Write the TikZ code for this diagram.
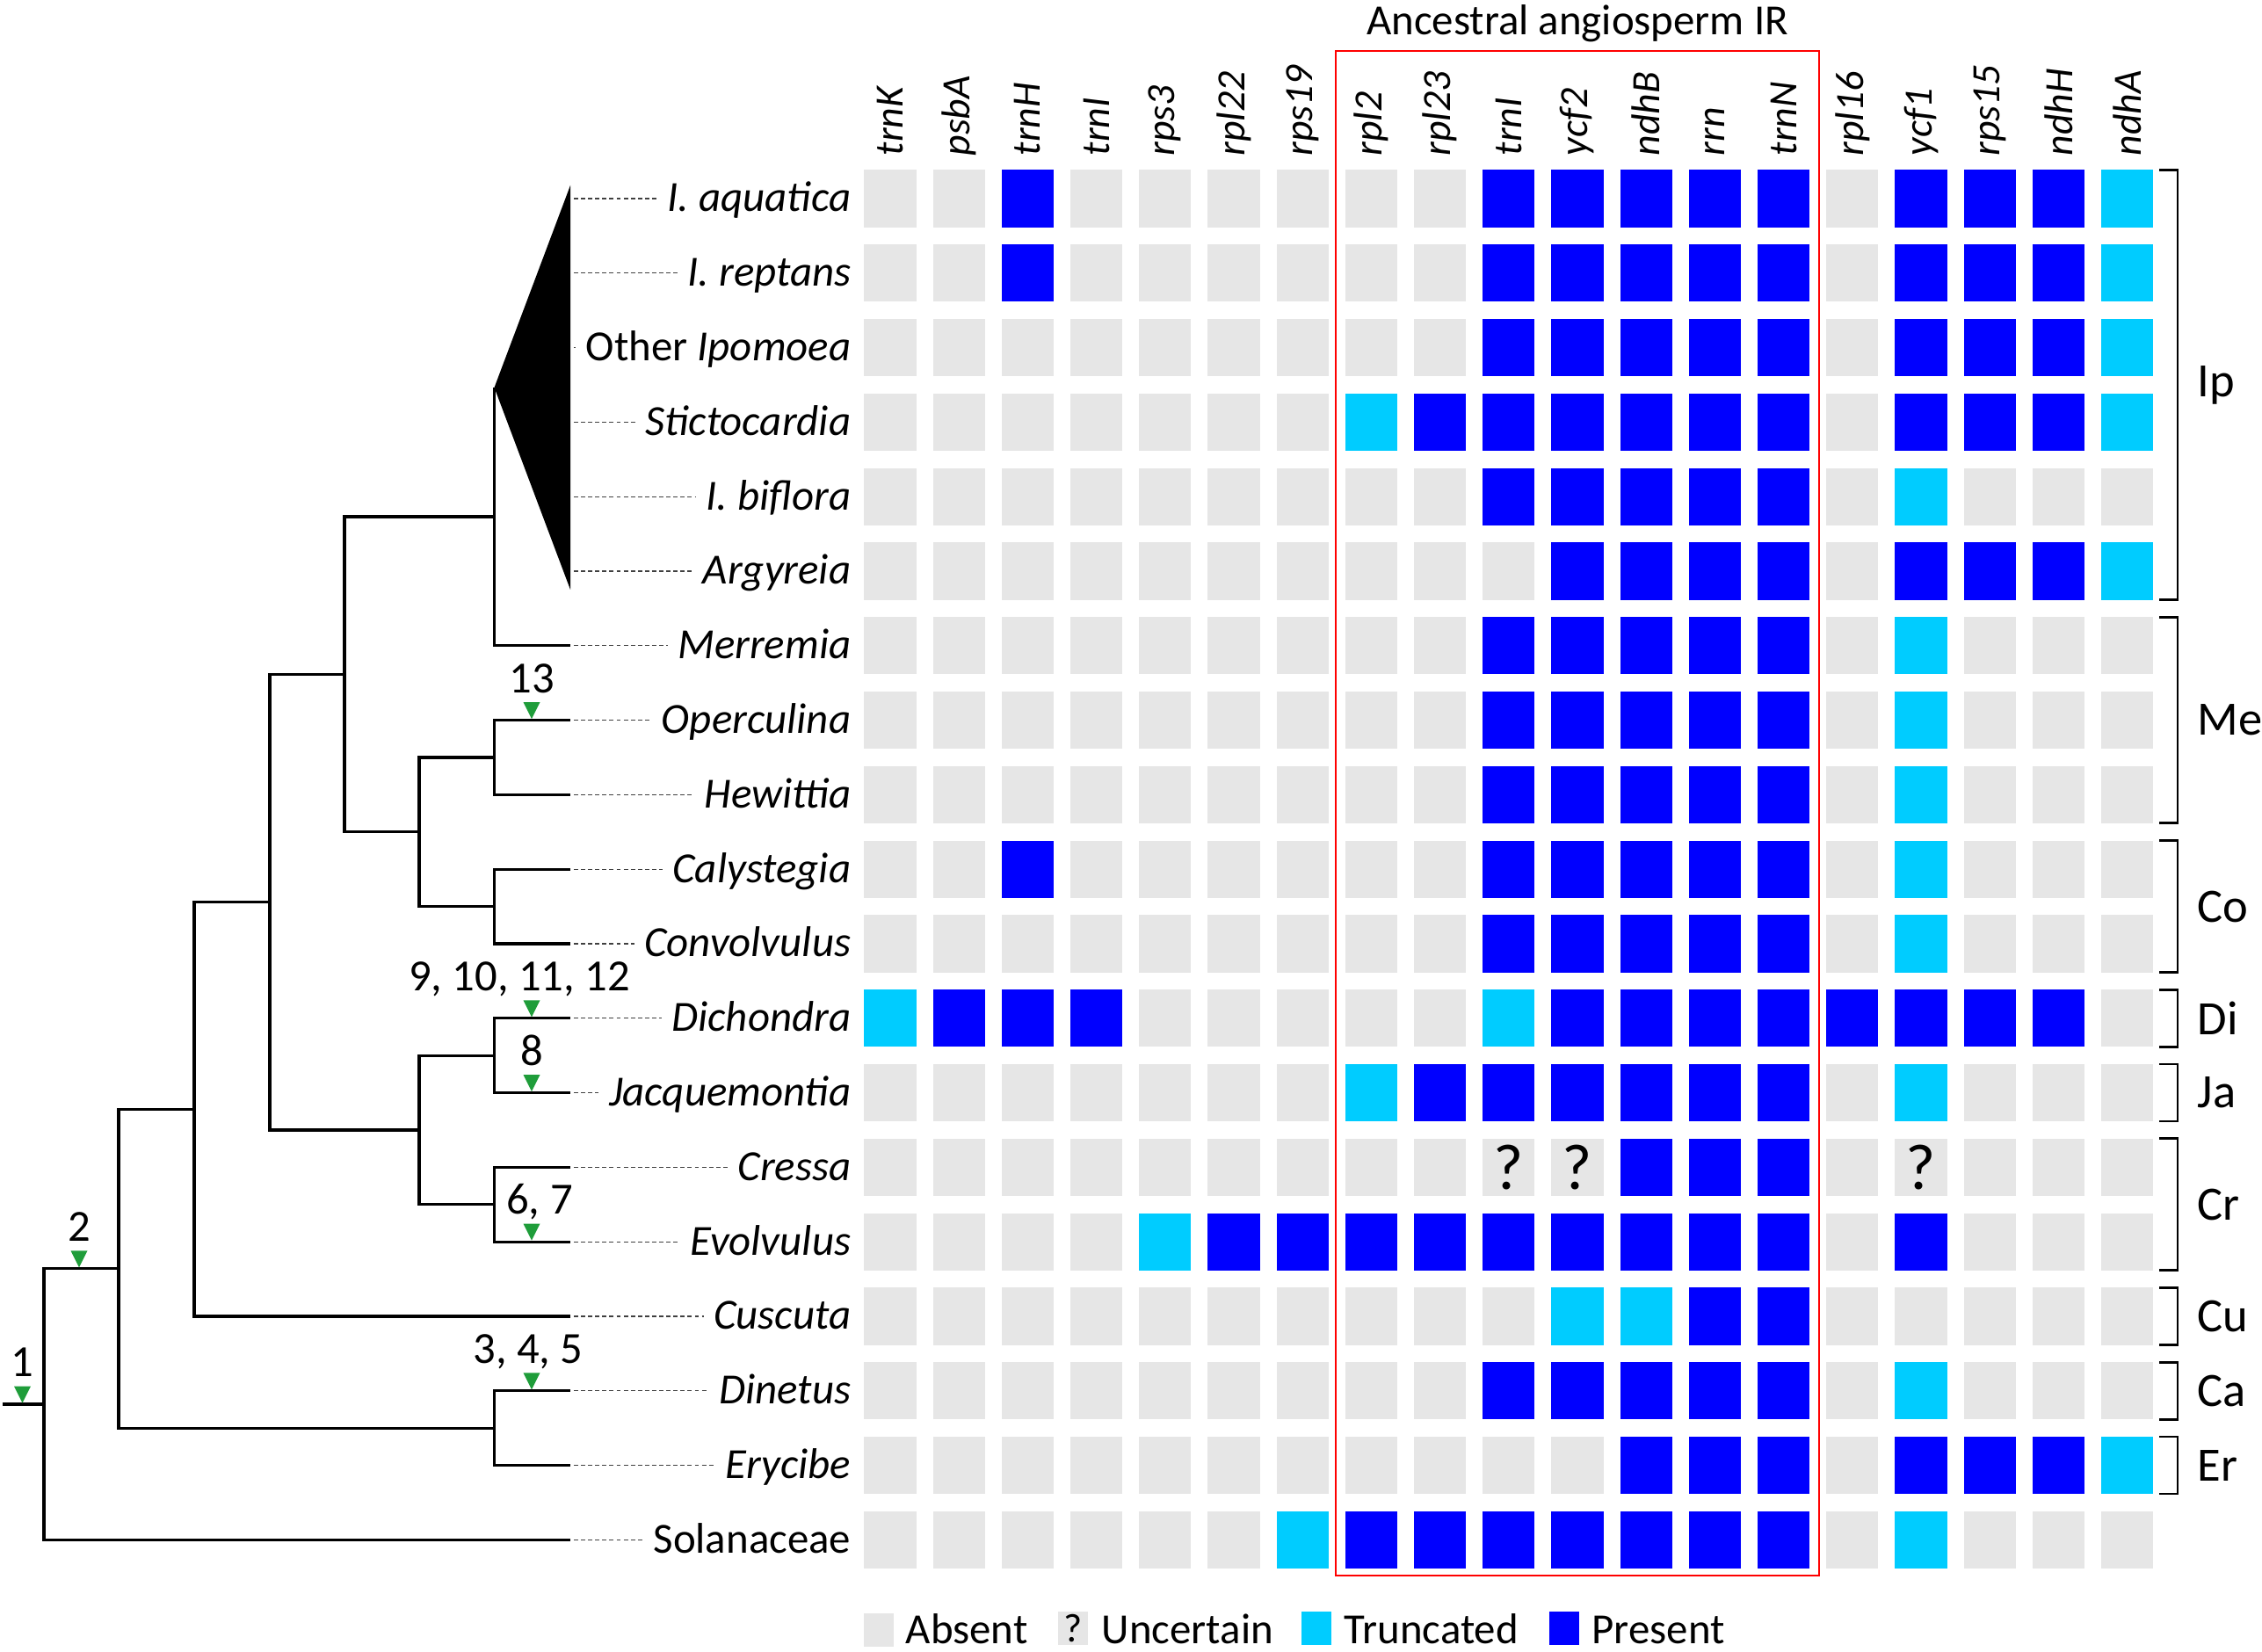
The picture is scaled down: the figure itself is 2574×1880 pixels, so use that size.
\documentclass[tikz,border=0pt]{standalone}
\usepackage{fontspec}
\setmainfont{Carlito}
\usepackage{tikz}
\definecolor{absgray}{HTML}{E6E6E6}
\definecolor{trcyan}{HTML}{00CCFF}
\definecolor{prblue}{HTML}{0000FF}
\definecolor{irred}{HTML}{FF0000}
\definecolor{chggreen}{HTML}{1F9D3A}
\colorlet{genecol0}{absgray}
\colorlet{genecol1}{trcyan}
\colorlet{genecol2}{prblue}
\colorlet{genecol3}{absgray}
\tikzset{
    lab/.style={font=\fontsize{13.9}{16}\selectfont, inner sep=0},
    rowlab/.style={lab, anchor=base east},
    numlab/.style={font=\fontsize{14.4}{16}\selectfont, inner sep=0, anchor=base},
    hdr/.style={font=\fontsize{13}{15}\selectfont\itshape, rotate=90, anchor=west, inner sep=0},
    gene/.style={minimum width=0.59cm, minimum height=0.65cm, inner sep=0, fill=genecol#1, font=\fontsize{21}{24}\selectfont},
    branch/.style={line width=0.95pt},
    leader/.style={line width=0.35pt, black!75, dash pattern=on 1.4pt off 0.9pt, shorten <=0.04cm, shorten >=0.11cm},
    grp/.style={line width=0.8pt},
    grplab/.style={font=\fontsize{15.5}{18}\selectfont, anchor=west, inner sep=0},
    chgfill/.style={fill=chggreen},
}
\def\Change (#1) at (#2, #3) [#4] #5; {
    \fill[chgfill] (#2 - 9.5, #3 - 19) -- (#2 + 9.5, #3 - 19) -- (#2, #3) -- cycle;
    \node[numlab, #4] (#1) at (#2, #3 - 30) {#5};
}

\begin{document}
\begin{tikzpicture}[x=0.01cm, y=-0.01cm]
    \useasboundingbox (0,0) rectangle (2574,1880);
    % gene headers
    \foreach \t [count=\c] in {trnK,psbA,trnH,trnI,rps3,rpl22,rps19,rpl2,rpl23,trnI,ycf2,ndhB,rrn,trnN,rpl16,ycf1,rps15,ndhH,ndhA}
        \node[hdr] (h\c) at ({1013+(\c-1)*78.2},178) {\t};
    % gene states: 0 absent, 1 truncated, 2 present, 3 uncertain
    \foreach \r/\d in {
        1/{0,0,2,0,0,0,0,0,0,2,2,2,2,2,0,2,2,2,1},
        2/{0,0,2,0,0,0,0,0,0,2,2,2,2,2,0,2,2,2,1},
        3/{0,0,0,0,0,0,0,0,0,2,2,2,2,2,0,2,2,2,1},
        4/{0,0,0,0,0,0,0,1,2,2,2,2,2,2,0,2,2,2,1},
        5/{0,0,0,0,0,0,0,0,0,2,2,2,2,2,0,1,0,0,0},
        6/{0,0,0,0,0,0,0,0,0,0,2,2,2,2,0,2,2,2,1},
        7/{0,0,0,0,0,0,0,0,0,2,2,2,2,2,0,1,0,0,0},
        8/{0,0,0,0,0,0,0,0,0,2,2,2,2,2,0,1,0,0,0},
        9/{0,0,0,0,0,0,0,0,0,2,2,2,2,2,0,1,0,0,0},
        10/{0,0,2,0,0,0,0,0,0,2,2,2,2,2,0,1,0,0,0},
        11/{0,0,0,0,0,0,0,0,0,2,2,2,2,2,0,1,0,0,0},
        12/{1,2,2,2,0,0,0,0,0,1,2,2,2,2,2,2,2,2,0},
        13/{0,0,0,0,0,0,0,1,2,2,2,2,2,2,0,1,0,0,0},
        14/{0,0,0,0,0,0,0,0,0,3,3,2,2,2,0,3,0,0,0},
        15/{0,0,0,0,1,2,2,2,2,2,2,2,2,2,0,2,0,0,0},
        16/{0,0,0,0,0,0,0,0,0,0,1,1,2,2,0,0,0,0,0},
        17/{0,0,0,0,0,0,0,0,0,2,2,2,2,2,0,1,0,0,0},
        18/{0,0,0,0,0,0,0,0,0,0,0,2,2,2,0,2,2,2,1},
        19/{0,0,0,0,0,0,1,2,2,2,2,2,2,2,0,1,0,0,0}}
        \foreach \v [count=\c] in \d
            \node[gene=\v] (g\r-\c) at ({1013+(\c-1)*78.2},{226+(\r-1)*84.8}) {\ifnum\v=3 ?\fi};
    % ancestral IR box
    \draw[irred, line width=0.7pt] (1520,58) rectangle (2070,1793);
    \node[lab, anchor=base] (title) at (1795,40) {Ancestral angiosperm IR};
    % taxa
    \foreach \r/\t in {1/\textit{I. aquatica}, 2/\textit{I. reptans}, 3/Other \textit{Ipomoea},
        4/\textit{Stictocardia}, 5/\textit{I. biflora}, 6/\textit{Argyreia}, 7/\textit{Merremia},
        8/\textit{Operculina}, 9/\textit{Hewittia}, 10/\textit{Calystegia}, 11/\textit{Convolvulus},
        12/\textit{Dichondra}, 13/\textit{Jacquemontia}, 14/\textit{Cressa}, 15/\textit{Evolvulus},
        16/\textit{Cuscuta}, 17/\textit{Dinetus}, 18/\textit{Erycibe}, 19/Solanaceae} {
        \coordinate (tip\r) at (649,{226+(\r-1)*84.8});
        \node[rowlab] (lab\r) at (969,{241+(\r-1)*84.8}) {\t};
        \draw[leader] (tip\r) -- (tip\r -| lab\r.west);
    }
    % tree
    \coordinate (stub) at (3,1598.1);
    \coordinate (root) at (50,1598.1);
    \coordinate (n2) at (135,1443.8);
    \coordinate (nCus) at (221,1262.3);
    \coordinate (nDE) at (562.5,1625.2);
    \coordinate (nCore) at (307,1026.7);
    \coordinate (nUp) at (392,767.35);
    \coordinate (nDC) at (477,1286);
    \coordinate (nIpo) at (562.5,587.9);
    \coordinate (nMC) at (477,946.8);
    \coordinate (nOH) at (562.5,862);
    \coordinate (nCC) at (562.5,1031.6);
    \coordinate (nDJ) at (562.5,1201.2);
    \coordinate (nCE) at (562.5,1370.8);
    \coordinate (apex) at (562.5,441);
    \coordinate (triTop) at (649,211);
    \coordinate (triBot) at (649,671);
    \fill (apex) -- (triTop) -- (triBot) -- cycle; % collapsed Ipomoea clade
    \draw[branch] (stub) -- (root);
    \draw[branch] (root) |- (n2); \draw[branch] (root) |- (tip19);
    \draw[branch] (n2) |- (nCus); \draw[branch] (n2) |- (nDE);
    \draw[branch] (nDE) |- (tip17); \draw[branch] (nDE) |- (tip18);
    \draw[branch] (nCus) |- (nCore); \draw[branch] (nCus) |- (tip16);
    \draw[branch] (nCore) |- (nUp); \draw[branch] (nCore) |- (nDC);
    \draw[branch] (nUp) |- (nIpo); \draw[branch] (nUp) |- (nMC);
    \draw[branch] (nIpo) -- (apex); \draw[branch] (nIpo) |- (tip7);
    \draw[branch] (nMC) |- (nOH); \draw[branch] (nMC) |- (nCC);
    \draw[branch] (nOH) |- (tip8); \draw[branch] (nOH) |- (tip9);
    \draw[branch] (nCC) |- (tip10); \draw[branch] (nCC) |- (tip11);
    \draw[branch] (nDC) |- (nDJ); \draw[branch] (nDC) |- (nCE);
    \draw[branch] (nDJ) |- (tip12); \draw[branch] (nDJ) |- (tip13);
    \draw[branch] (nCE) |- (tip14); \draw[branch] (nCE) |- (tip15);
    % IR changes
    \Change (m1) at (25.5, 1596.6) [] {1};
    \Change (m2) at (90, 1442.3) [] {2};
    \Change (m345) at (605, 1581.3) [xshift=-0.04cm] {3, 4, 5};
    \Change (m67) at (605, 1411.7) [xshift=0.09cm] {6, 7};
    \Change (m8) at (605, 1242.1) [] {8};
    \Change (m912) at (605, 1157.3) [xshift=-0.14cm] {9, 10, 11, 12};
    \Change (m13) at (605, 818.1) [] {13};
    % clade brackets
    \foreach \a/\b/\t in {1/6/Ip, 7/9/Me, 10/11/Co, 12/12/Di, 13/13/Ja, 14/15/Cr, 16/16/Cu, 17/17/Ca, 18/18/Er} {
        \draw[grp] (2457,{193.5+(\a-1)*84.8}) -- (2478,{193.5+(\a-1)*84.8})
            -- (2478,{258.5+(\b-1)*84.8}) -- (2457,{258.5+(\b-1)*84.8});
        \node[grplab] (grp\t) at (2500,{226+(\a+\b-2)*42.4}) {\t};
    }
    % legend
    \node[gene=0, minimum width=0.34cm, minimum height=0.37cm] (lg0) at (1000,1855) {};
    \node[lab, anchor=base west] (lt0) at (1030,1871) {Absent};
    \node[gene=3, minimum width=0.33cm, minimum height=0.37cm, font=\fontsize{13}{15}\selectfont] (lg3) at (1221,1853) {?};
    \node[lab, anchor=base west] (lt3) at (1253,1871) {Uncertain};
    \node[gene=1, minimum width=0.34cm, minimum height=0.37cm] (lg1) at (1498,1853) {};
    \node[lab, anchor=base west] (lt1) at (1529,1871) {Truncated};
    \node[gene=2, minimum width=0.34cm, minimum height=0.37cm] (lg2) at (1780,1853) {};
    \node[lab, anchor=base west] (lt2) at (1811,1871) {Present};
\end{tikzpicture}
\end{document}
